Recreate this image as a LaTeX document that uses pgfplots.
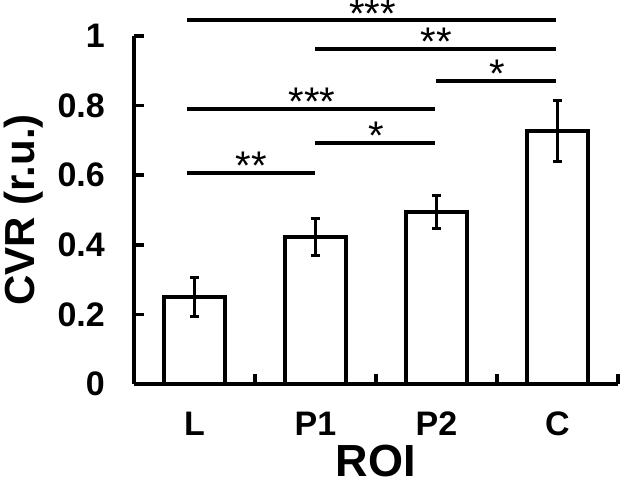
\documentclass[border=0pt]{standalone}
\usepackage{fontspec}
\setmainfont{Liberation Sans}
\usepackage{pgfplots}
\pgfplotsset{compat=1.18}
\begin{document}
\begin{tikzpicture}
\begin{axis}[
  % 1pt ~ 1px of the reference; axis box 484 x 348, lower left at (0,0)
  scale only axis, width=484pt, height=348pt,
  at={(0,0)}, anchor=south west,
  xmin=-0.5, xmax=3.5, ymin=0, ymax=1,
  clip=false,
  axis lines*=left, axis line style={line width=4pt},
  xtick={0,1,2,3}, xticklabels={L,P1,P2,C},
  minor xtick={0.5,1.5,2.5,3.5},
  tick style={black},
  major x tick style={draw=none},
  minor x tick style={black, line width=3.5pt},
  ytick={0,0.2,...,1.0},
  major y tick style={black, line width=3.5pt},
  tick align=inside, major tick length=10pt, minor tick length=10pt,
  /pgf/number format/assume math mode=true,
  xticklabel style={font=\bfseries\fontsize{34}{38}\selectfont, inner sep=0pt,
                    anchor=north, yshift=-27pt, text height=24pt, text depth=0pt},
  yticklabel style={font=\bfseries\fontsize{34}{38}\selectfont, inner sep=0pt,
                    anchor=east, xshift=-29pt},
  xlabel={ROI}, ylabel={CVR (r.u.)},
  xlabel style={font=\bfseries\fontsize{45}{48}\selectfont, inner sep=0pt,
                text height=32pt, text depth=0pt,
                at={(axis description cs:0.5,-0.220)}, anchor=center},
  ylabel style={font=\bfseries\fontsize{42}{46}\selectfont, inner sep=0pt,
                at={(axis description cs:-0.229,0.5)}, anchor=center},
  ]
  \addplot[ybar, bar width=0.505, fill=white, draw=black, line width=3.5pt,
    error bars/.cd, y dir=both, y explicit,
    error bar style={line width=3.5pt},
    error mark options={rotate=90, mark size=4.5pt, line width=3.5pt}]
    coordinates {
      (0,0.250) +- (0,0.056)
      (1,0.422) +- (0,0.053)
      (2,0.494) +- (0,0.047)
      (3,0.727) +- (0,0.088)};
  % significance brackets
  \addplot[line width=4pt] coordinates {(-0.06,1.046) (2.99,1.046)};
  \addplot[line width=4pt] coordinates {(1.0,0.962) (2.99,0.962)};
  \addplot[line width=4pt] coordinates {(2.0,0.871) (2.99,0.871)};
  \addplot[line width=4pt] coordinates {(-0.06,0.790) (1.99,0.790)};
  \addplot[line width=4pt] coordinates {(1.0,0.692) (1.99,0.692)};
  \addplot[line width=4pt] coordinates {(-0.06,0.606) (1.0,0.606)};
  \tikzset{star/.style={font=\fontsize{40}{42}\selectfont, anchor=base,
                        inner sep=0pt, text height=23pt, text depth=0pt}}
  \node[star] at (axis cs:1.47,1.024) {***};
  \node[star] at (axis cs:2.0,0.944) {**};
  \node[star] at (axis cs:2.5,0.853) {*};
  \node[star] at (axis cs:0.97,0.772) {***};
  \node[star] at (axis cs:1.5,0.674) {*};
  \node[star] at (axis cs:0.47,0.588) {**};
\end{axis}
\pgfresetboundingbox
\useasboundingbox (-134pt,-98pt) rectangle (491pt,384pt);
\end{tikzpicture}
\end{document}
